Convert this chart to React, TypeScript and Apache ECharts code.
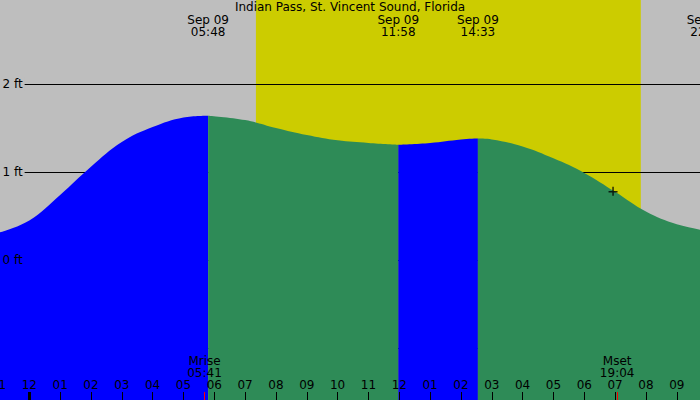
import React, { useEffect, useRef } from 'react';
import * as echarts from 'echarts';

// station / labels
const stationName = 'Indian Pass, St. Vincent Sound, Florida';
const dateLabel = 'Sep 09';

// hourly tide heights (ft), hour 0 = midnight Sep 09
const tideHours = [-1, 0, 1, 2, 3, 4, 5, 6, 7, 8, 9, 10, 11, 12, 13, 14, 15, 16, 17, 18, 19, 20, 21];
const tideFeet = [0.31, 0.45, 0.74, 1.06, 1.34, 1.51, 1.62, 1.638, 1.59, 1.5, 1.42, 1.36, 1.33, 1.31, 1.33, 1.37, 1.37, 1.29, 1.155, 0.99, 0.775, 0.55, 0.405];

// highs and lows
const extremeTimes = ['05:48', '11:58', '14:33', '22:00'];
const extremeFeet = [1.64, 1.31, 1.38, 0.33];

// sun and moon
const sunTimes = ['07:21', '19:50'];
const moonNames = ['Mrise', 'Mset'];
const moonTimes = ['05:41', '19:04'];

// current time marker
const nowTime = '18:56';
const nowFeet = 0.78;

const feetLabels = [0, 1, 2];

const BG = '#bebebe';
const DAY = '#cccc00';
const RISING = '#0000ff';
const FALLING = '#2e8b57';
const FONT = 'DejaVu Sans';

const parseHour = (t: string) => {
  const [h, m] = t.split(':').map(Number);
  return h + m / 60;
};

const hourLabel = (v: number) => {
  const h = (((Math.round(v) % 12) + 12) % 12) || 12;
  return String(h).padStart(2, '0');
};

const App: React.FC = () => {
  const chartRef = useRef<HTMLDivElement>(null);

  useEffect(() => {
    document.body.style.margin = '0';
    if (!chartRef.current) return;
    const chart = echarts.init(chartRef.current, undefined, { renderer: 'svg' });

    const extremeHours = extremeTimes.map(parseHour);
    const moonHours = moonTimes.map(parseHour);
    const sunHours = sunTimes.map(parseHour);

    // merge hourly points and extremes (drop hourly points sitting right next to an extreme)
    const points: [number, number][] = tideHours
      .map((h, i) => [h, tideFeet[i]] as [number, number])
      .filter((p) => !extremeHours.some((h) => Math.abs(h - p[0]) < 0.3));
    extremeHours.forEach((h, i) => points.push([h, extremeFeet[i]]));
    points.sort((a, b) => a[0] - b[0]);

    // split into rising / falling pieces at each high and low
    const bounds = [tideHours[0], ...extremeHours];
    const waterSeries = bounds.slice(0, -1).map((start, i) => {
      const end = bounds[i + 1];
      const seg = points.filter((p) => p[0] >= start - 1e-6 && p[0] <= end + 1e-6);
      const rising = seg[seg.length - 1][1] > seg[0][1];
      return {
        type: 'line' as const,
        data: seg,
        smooth: 0.4,
        showSymbol: false,
        silent: true,
        z: 2,
        lineStyle: { width: 0 },
        areaStyle: { color: rising ? RISING : FALLING, opacity: 1, origin: 'start' as const },
      };
    });

    const findLabel = (v: number, hours: number[], fn: (i: number) => string) => {
      const i = hours.findIndex((h) => Math.abs(h - v) < 1e-3);
      return i < 0 ? '' : fn(i);
    };

    const baseX = {
      type: 'value' as const,
      min: -1,
      max: 22,
      interval: 1,
      splitLine: { show: false },
      axisLine: { show: false, onZero: false },
      z: 3,
    };

    const option: any = {
      animation: false,
      backgroundColor: BG,
      title: {
        text: stationName,
        left: 'center',
        top: 1,
        padding: 0,
        textStyle: { fontFamily: FONT, fontSize: 12, fontWeight: 'normal', color: '#000' },
      },
      grid: { left: -1.53, right: -7.6, top: -4, bottom: -36, containLabel: false, outerBoundsMode: 'none' },
      xAxis: [
        {
          ...baseX,
          position: 'bottom',
          offset: -36,
          axisTick: { inside: true, length: 8, lineStyle: { color: '#000', width: 1 } },
          axisLabel: {
            inside: true,
            margin: 9,
            fontFamily: FONT,
            fontSize: 12,
            color: '#000',
            formatter: hourLabel,
          },
        },
        {
          ...baseX,
          position: 'bottom',
          offset: -36,
          axisTick: { inside: true, length: 8, customValues: [0], lineStyle: { color: '#000', width: 3 } },
          axisLabel: { show: false },
        },
        {
          ...baseX,
          position: 'bottom',
          offset: -36,
          z: 4,
          axisTick: { inside: true, length: 8, customValues: moonHours, lineStyle: { color: '#ff0000', width: 1 } },
          axisLabel: {
            inside: true,
            margin: 21,
            customValues: moonHours,
            fontFamily: FONT,
            fontSize: 12,
            lineHeight: 12,
            color: '#000',
            formatter: (v: number) => findLabel(v, moonHours, (i) => `${moonNames[i]}\n${moonTimes[i]}`),
          },
        },
        {
          ...baseX,
          position: 'top',
          offset: -4,
          axisTick: { show: false },
          axisLabel: {
            inside: true,
            margin: 14,
            customValues: extremeHours,
            fontFamily: FONT,
            fontSize: 12,
            lineHeight: 12,
            color: '#000',
            formatter: (v: number) => findLabel(v, extremeHours, (i) => `${dateLabel}\n${extremeTimes[i]}`),
          },
        },
      ],
      yAxis: [
        {
          type: 'value',
          position: 'left',
          min: -2,
          max: 3,
          interval: 1,
          z: 1,
          axisLine: { show: false, onZero: false },
          axisTick: { show: false },
          axisLabel: { show: false },
          splitLine: { show: true, lineStyle: { color: '#000', width: 1 } },
        },
        {
          type: 'value',
          position: 'left',
          min: -2,
          max: 3,
          interval: 1,
          z: 3,
          axisLine: { show: false, onZero: false },
          axisTick: { show: false },
          splitLine: { show: false },
          axisLabel: {
            inside: true,
            margin: 0,
            fontFamily: FONT,
            fontSize: 12,
            color: '#000',
            formatter: (v: number) => {
              if (!feetLabels.includes(v)) return '';
              return v === 0 ? `{w|${v} ft}` : `{g|${v} ft}`;
            },
            rich: {
              g: { backgroundColor: BG, padding: [1, 2, 1, 4], fontFamily: FONT, fontSize: 12, color: '#000' },
              w: { padding: [1, 2, 1, 4], fontFamily: FONT, fontSize: 12, color: '#000' },
            },
          },
        },
      ],
      series: [
        {
          type: 'line',
          data: [],
          silent: true,
          markArea: {
            silent: true,
            z: 0,
            itemStyle: { color: DAY, opacity: 1 },
            data: [[{ xAxis: sunHours[0] }, { xAxis: sunHours[1] }]],
          },
        },
        ...waterSeries,
        {
          type: 'scatter',
          silent: true,
          z: 5,
          symbol: 'path://M0,4.25h9v1.5h-9zM3.75,0h1.5v9h-1.5z',
          symbolSize: 9,
          itemStyle: { color: '#000' },
          data: [[parseHour(nowTime), nowFeet]],
        },
      ],
    };

    chart.setOption(option);

    return () => {
      chart.dispose();
    };
  }, []);

  return <div ref={chartRef} style={{ width: '700px', height: '400px' }} />;
};

export default App;
